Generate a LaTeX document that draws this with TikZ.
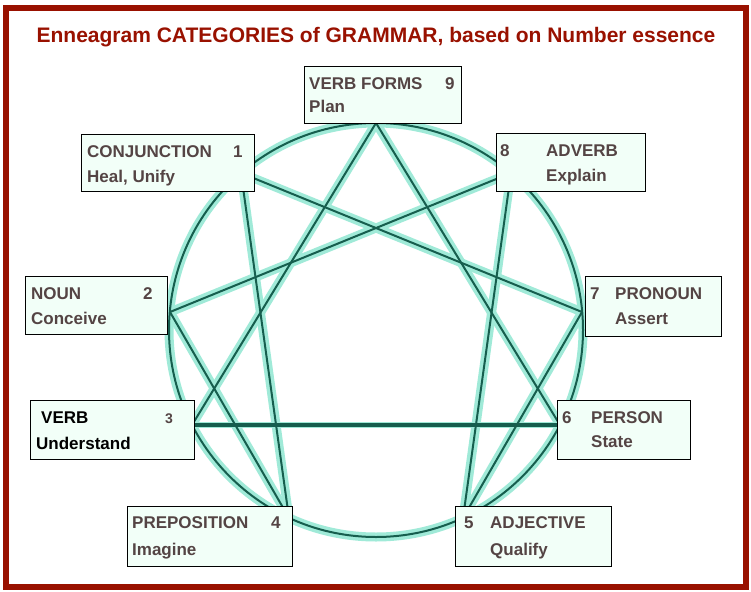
\documentclass[tikz,border=0pt]{standalone}
\usepackage{fontspec}
\setmainfont{Liberation Sans}
\definecolor{framered}{RGB}{153,17,0}
\definecolor{glow}{RGB}{160,234,216}
\definecolor{enneateal}{RGB}{22,94,78}
\definecolor{boxfill}{RGB}{242,255,248}
\definecolor{labtext}{RGB}{84,68,68}
\tikzset{
  glowline/.style={glow,line width=9pt,line cap=round},
  coreline/.style={enneateal,line width=2pt},
  catbox/.style={draw=black,line width=1.3pt,fill=boxfill,rectangle,inner sep=0pt,anchor=north west},
  cattext/.style={anchor=base west,inner sep=0pt,text=labtext,font=\bfseries\fontsize{17}{17}\selectfont},
}
\begin{document}
\begin{tikzpicture}[x=1pt,y=-1pt]
      \useasboundingbox (0,0) rectangle (751,591);
      \fill[white] (0,0) rectangle (751,591);
      \draw[framered,line width=6pt] (6,8) rectangle (746,587);
      \node[anchor=base,inner sep=0pt,text=framered,font=\bfseries\fontsize{21}{21}\selectfont] (title) at (376,43)
        {Enneagram CATEGORIES of GRAMMAR, based on Number essence};

      \coordinate (c) at (376,330);
      \coordinate (p9) at (376,123);
      \coordinate (p1) at (241,173);
      \coordinate (p2) at (170,312);
      \coordinate (p3) at (192,425);
      \coordinate (p4) at (289,518);
      \coordinate (p5) at (463,518);
      \coordinate (p6) at (560,425);
      \coordinate (p7) at (582,312);
      \coordinate (p8) at (511,173);

      \draw[glowline] (c) circle[radius=207];
      \foreach \a/\b in {p9/p3,p6/p9,p1/p4,p4/p2,p2/p8,p8/p5,p5/p7,p7/p1}
        \draw[glowline] (\a) -- (\b);
      \draw[glowline,line width=6pt] (p3) -- (p6);
      \draw[coreline] (c) circle[radius=207];
      \foreach \a/\b in {p9/p3,p6/p9,p1/p4,p4/p2,p2/p8,p8/p5,p5/p7,p7/p1}
        \draw[coreline] (\a) -- (\b);
      \draw[coreline,line width=3.5pt] (p3) -- (p6);

      % boxes, text set from the top left corner of each
      \node[catbox,minimum width=157pt,minimum height=57pt] (b9) at (304,66) {};
      \node[cattext] (t9) at ([shift={(5,23)}]b9.north west) {VERB FORMS};
      \node[cattext] (n9) at ([shift={(141,23)}]b9.north west) {9};
      \node[cattext] (s9) at ([shift={(5,47)}]b9.north west) {Plan};

      \node[catbox,minimum width=173pt,minimum height=57pt] (b1) at (81,134) {};
      \node[cattext] (t1) at ([shift={(6,23)}]b1.north west) {CONJUNCTION};
      \node[cattext] (n1) at ([shift={(152,23)}]b1.north west) {1};
      \node[cattext] (s1) at ([shift={(6,48)}]b1.north west) {Heal, Unify};

      \node[catbox,minimum width=149pt,minimum height=58pt] (b8) at (496,133) {};
      \node[cattext] (n8) at ([shift={(4,23)}]b8.north west) {8};
      \node[cattext] (t8) at ([shift={(50,23)}]b8.north west) {ADVERB};
      \node[cattext] (s8) at ([shift={(50,48)}]b8.north west) {Explain};

      \node[catbox,minimum width=142pt,minimum height=58pt] (b2) at (25,276) {};
      \node[cattext] (t2) at ([shift={(6,23)}]b2.north west) {NOUN};
      \node[cattext] (n2) at ([shift={(118,23)}]b2.north west) {2};
      \node[cattext] (s2) at ([shift={(6,48)}]b2.north west) {Conceive};

      \node[catbox,minimum width=136pt,minimum height=60pt] (b7) at (585,276) {};
      \node[cattext] (n7) at ([shift={(5,23)}]b7.north west) {7};
      \node[cattext] (t7) at ([shift={(30,23)}]b7.north west) {PRONOUN};
      \node[cattext] (s7) at ([shift={(30,48)}]b7.north west) {Assert};

      \node[catbox,minimum width=164pt,minimum height=59pt] (b3) at (30,400) {};
      \node[cattext,text=black] (t3) at ([shift={(11,23)}]b3.north west) {VERB};
      \node[cattext,font=\bfseries\fontsize{14}{14}\selectfont] (n3) at ([shift={(135,23)}]b3.north west) {3};
      \node[cattext,text=black] (s3) at ([shift={(6,49)}]b3.north west) {Understand};

      \node[catbox,minimum width=133pt,minimum height=59pt] (b6) at (557,400) {};
      \node[cattext] (n6) at ([shift={(5,23)}]b6.north west) {6};
      \node[cattext] (t6) at ([shift={(34,23)}]b6.north west) {PERSON};
      \node[cattext] (s6) at ([shift={(34,47)}]b6.north west) {State};

      \node[catbox,minimum width=165pt,minimum height=60pt] (b4) at (127,506) {};
      \node[cattext] (t4) at ([shift={(5,22)}]b4.north west) {PREPOSITION};
      \node[cattext] (n4) at ([shift={(144,22)}]b4.north west) {4};
      \node[cattext] (s4) at ([shift={(5,49)}]b4.north west) {Imagine};

      \node[catbox,minimum width=156pt,minimum height=60pt] (b5) at (455,506) {};
      \node[cattext] (n5) at ([shift={(9,22)}]b5.north west) {5};
      \node[cattext] (t5) at ([shift={(35,22)}]b5.north west) {ADJECTIVE};
      \node[cattext] (s5) at ([shift={(35,49)}]b5.north west) {Qualify};
    \end{tikzpicture}
\end{document}
